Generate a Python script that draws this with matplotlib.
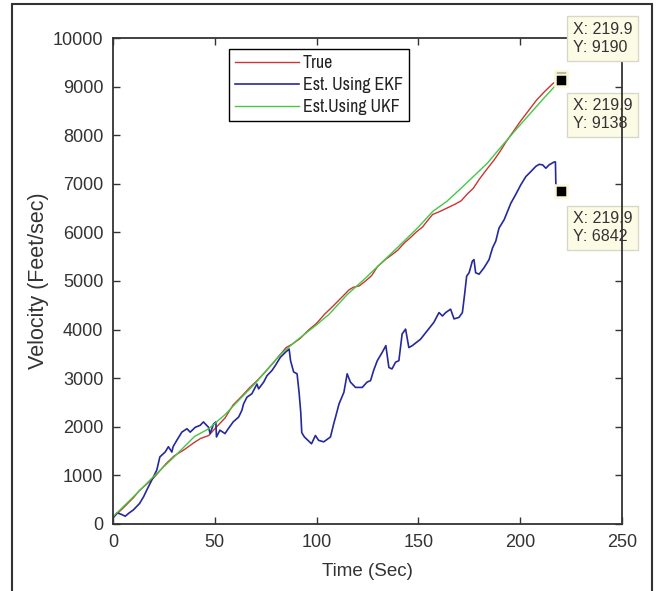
import matplotlib.pyplot as plt
from matplotlib.patches import Rectangle
from matplotlib import font_manager

plt.rcParams['font.family'] = ['Liberation Sans', 'DejaVu Sans']

# values
t_true = [0, 5, 10, 13, 20, 26, 30, 35, 40, 43, 47, 50, 55, 59, 63, 67, 71, 75, 79,
          82, 85, 88, 92, 96, 100, 104, 108, 112, 116, 118, 121, 124, 127, 130, 134,
          137, 140, 143, 146, 149, 152, 155, 157, 160, 164, 168, 171, 174, 177, 180,
          184, 187, 190, 193, 196, 200, 204, 208, 212, 216, 219.9]
v_true = [130, 330, 540, 690, 950, 1240, 1400, 1530, 1680, 1760, 1820, 1960, 2180,
          2450, 2620, 2800, 2960, 3140, 3330, 3480, 3630, 3700, 3820, 3990, 4130, 4320,
          4480, 4650, 4820, 4870, 4900, 5000, 5110, 5300, 5450, 5540, 5640, 5780, 5890,
          6010, 6110, 6270, 6370, 6420, 6500, 6580, 6650, 6790, 6910, 7100, 7320, 7480,
          7660, 7860, 8040, 8280, 8500, 8720, 8900, 9060, 9190]

t_ukf = [0, 10, 20, 30, 40, 47, 55, 60, 70, 82, 90, 100, 106, 115, 123, 131, 140,
         150, 157, 164, 171, 177, 184, 190, 197, 205, 212, 219.9]
v_ukf = [150, 560, 980, 1380, 1800, 1960, 2250, 2470, 2900, 3480, 3770, 4100, 4310,
         4720, 5020, 5340, 5700, 6110, 6430, 6640, 6910, 7150, 7430, 7730, 8070, 8450,
         8780, 9138]

t_ekf = [0.5, 2, 4, 6, 8, 10, 13, 15, 16.6, 19, 21.5, 23, 25.6, 27.2, 28.9, 29.5,
         31.3, 33.8, 36.3, 37.9, 40.4, 42.8, 44.4, 46.9, 47.7, 49.4, 50.5, 50.8, 52.5,
         55, 56.6, 59, 61.7, 63.3, 64.1, 65.8, 68.2, 70.7, 71.5, 74, 75.6, 78.1, 79.7,
         82.2, 84.6, 86.5, 87.2, 88.7, 90.4, 91.4, 92.2, 92.7, 94, 95.5, 97.5, 99.4,
         101, 103.5, 106.8, 108.4, 109.3, 111, 113.4, 115, 116.6, 119.1, 122.4, 124.8,
         126.5, 128, 129.8, 132.2, 134, 135.5, 137, 138.8, 140.4, 142, 143.7, 145.3,
         147, 151, 154.4, 157.6, 160.1, 161.8, 163.4, 165.8, 167.5, 169.9, 171.6,
         172.7, 173.7, 174.9, 176.5, 177.3, 178.1, 179.8, 182.2, 184.7, 186.4, 188,
         189.6, 192.1, 195.4, 197.8, 200.3, 202.8, 205.2, 207.7, 209.3, 211, 212.6,
         214.2, 216.7, 217.3, 217.5, 219.9]
v_ekf = [150, 230, 200, 160, 230, 290, 420, 560, 700, 900, 1110, 1380, 1480, 1590,
         1480, 1590, 1720, 1890, 1960, 1890, 1990, 2030, 2100, 1990, 1860, 2060, 2100,
         1790, 1930, 1860, 1960, 2100, 2200, 2340, 2470, 2610, 2680, 2880, 2780, 2920,
         3050, 3160, 3260, 3430, 3530, 3600, 3360, 3130, 3090, 2700, 2300, 1880, 1790,
         1730, 1650, 1820, 1720, 1690, 1790, 2063, 2200, 2470, 2710, 3090, 2920, 2810,
         2810, 2920, 2950, 3160, 3360, 3530, 3670, 3220, 3190, 3330, 3360, 3910, 4010,
         3630, 3670, 3800, 3980, 4150, 4350, 4280, 4350, 4420, 4220, 4250, 4350, 4730,
         5100, 5170, 5410, 5440, 5170, 5140, 5270, 5440, 5680, 5820, 6090, 6260, 6600,
         6780, 6980, 7150, 7250, 7360, 7400, 7390, 7320, 7390, 7450, 7450, 7000, 6842]

tip_x = 219.9
tip_y = [9190, 9138, 6842]
tip_text_y = [9990, 8416, 6091]

fig = plt.figure(figsize=(6.61, 5.91), dpi=100)
ax = fig.add_axes([0.171, 0.1134, 0.770, 0.8223])

ax.plot(t_true, v_true, color='#cc3333', lw=1.0, label='True')
ax.plot(t_ekf, v_ekf, color='#25299a', lw=1.2, label='Est. Using EKF')
ax.plot(t_ukf, v_ukf, color='#44c844', lw=1.0, label='Est.Using UKF')

ax.set_xlim(0, 250)
ax.set_ylim(0, 10000)
ax.set_xticks([0, 50, 100, 150, 200, 250])
ax.set_yticks(range(0, 10001, 1000))
ax.tick_params(direction='in', length=5, width=1.0, color='#333333',
               top=True, right=True, labelsize=13, labelcolor='#333333', pad=7)
for s in ax.spines.values():
    s.set_color('#333333')
    s.set_linewidth(1.3)

ax.set_xlabel('Time (Sec)', fontsize=13.5, color='#333333', labelpad=9)
ax.set_ylabel('Velocity (Feet/sec)', fontsize=15.5, color='#333333', labelpad=3)

narrow = [f.name for f in font_manager.fontManager.ttflist if 'Narrow' in f.name]
leg_font = {'family': (narrow[:1] or []) + ['Liberation Sans', 'DejaVu Sans'], 'size': 12.8}

leg = ax.legend(loc='upper left', bbox_to_anchor=(0.228, 0.977), prop=leg_font,
                frameon=True, fancybox=False, edgecolor='black', framealpha=1,
                handlelength=3.6, borderpad=0.35, labelspacing=0.32,
                handletextpad=0.2, borderaxespad=0)
leg.get_frame().set_linewidth(1.0)
for txt in leg.get_texts():
    txt.set_color('#222222')

# data tips
for i, (ty, ly) in enumerate(zip(tip_y, tip_text_y)):
    ax.plot(tip_x, ty, 's', ms=9, mfc='black', mec='#fbf8d8', mew=1.8,
            clip_on=False, zorder=5)
    ax.text(225.9, ly, 'X: %.1f\nY: %d' % (tip_x, ty), fontsize=11.5,
            color='#333333', va='center', ha='left', clip_on=False,
            zorder=4 if i == 0 else 2, linespacing=1.25,
            bbox=dict(boxstyle='square,pad=0.35', fc='#fbfbe6', ec='#d8d8c8', lw=1.0))

# outer frame of the picture
fig.patches.append(Rectangle((12 / 661, -0.02), 640 / 661, 1.02 - 4 / 591,
                             transform=fig.transFigure, fill=False,
                             ec='#333333', lw=1.5))

fig.savefig('out.png', dpi=100)
